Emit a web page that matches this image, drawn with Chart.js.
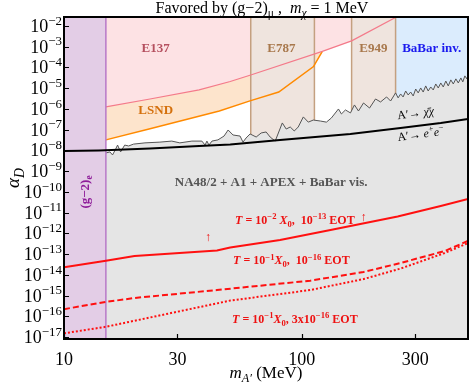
<!DOCTYPE html>
<html>
<head>
<meta charset="utf-8">
<script src="https://cdn.jsdelivr.net/npm/chart.js@4.4.1/dist/chart.umd.min.js"></script>
<style>
  html, body { margin: 0; padding: 0; background: #fff; }
</style>
</head>
<body>
<canvas id="chart" width="469" height="383"></canvas>
<script>
// axis ranges: m_A' in MeV, alpha_D
const xMin = 10, xMax = 500;
const yMin = 8e-18, yMax = 2.7e-2;
const xTicks = [10, 30, 100, 300];
const yTicks = [1e-17, 1e-16, 1e-15, 1e-14, 1e-13, 1e-12, 1e-11, 1e-10, 1e-9, 1e-8, 1e-7, 1e-6, 1e-5, 1e-4, 1e-3, 1e-2];
const yTickExps = ['−17', '−16', '−15', '−14', '−13', '−12', '−11', '−10', '−9', '−8', '−7', '−6', '−5', '−4', '−3', '−2'];

// vertical bands (MeV)
const g2eBand = [10, 15];
const e787Band = [61, 113];
const e949Band = [162, 248];
const babarInvBand = [248, 500];

// E137 lower edge
const e137X = [15, 23, 37, 50, 61, 122, 162, 250];
const e137Y = [1.24e-6, 3.0e-6, 8.2e-6, 2.1e-5, 4.3e-5, 5.9e-4, 1.9e-3, 2.7e-2];

// LSND lower edge
const lsndX = [15, 23, 45, 61, 80, 112, 122];
const lsndY = [3.2e-8, 1.1e-7, 7.9e-7, 2.5e-6, 6.5e-6, 1.1e-4, 5.9e-4];

// NA48/2 + A1 + APEX + BaBar vis. upper edge
const visX = [15, 15.6, 16.0, 16.5, 16.8, 17.3, 18.0, 18.7, 19.6, 21.9, 25.3, 28.4, 30.7, 34.5, 38.0, 39.2, 39.9, 40.7, 41.9, 44.4,
              47.1, 49.0, 51.4, 55.0, 56.6, 58.3, 60.6, 64.3, 67.5, 70.8, 73.6, 77.3, 82.8, 86.0, 89.4, 93.0, 96.6, 101.5, 106.5, 111.8,
              119.7, 126.9, 133.2, 142.6, 146.8, 152.6, 160.2, 166.5, 173.1, 181.8, 192.7, 204.2, 214.4, 227.3, 236.3,
              248, 254.2, 260.4, 266.8, 273.4, 280.1, 287, 294.1, 301.3, 308.7, 316.2, 324, 332, 340.1, 348.5, 357.1,
              365.9, 374.8, 384.1, 393.5, 403.3, 413, 423.4, 433.6, 444.5, 455.1, 466.7, 475.5, 485, 494.5, 500];
const visY = [7.5e-9, 8.4e-9, 6.0e-9, 1.17e-8, 1.8e-8, 8.4e-9, 1.8e-8, 1.63e-8, 2.0e-8, 2.3e-8, 2.5e-8, 2.8e-8, 2.3e-8, 2.8e-8, 2.8e-8, 1.8e-8, 2.8e-8, 1.8e-8, 2.8e-8, 3.2e-8,
              4.9e-8, 9.6e-8, 5.5e-8, 4.9e-8, 2.5e-8, 3.95e-8, 6.2e-8, 4.4e-8, 6.9e-8, 7.7e-8, 4.4e-8, 2.8e-8, 2.1e-7, 1.07e-7, 1.34e-7, 8.6e-8, 1.34e-7, 4.1e-7, 2.3e-7, 2.9e-7,
              2.6e-7, 2.3e-7, 3.65e-7, 9.9e-7, 5.7e-7, 8.9e-7, 6.4e-7, 1.55e-6, 7.9e-7, 1.93e-6, 1.1e-6, 3.0e-6, 2.16e-6, 3.76e-6, 2.4e-6,
              5.9e-6, 3.4e-6, 5.25e-6, 3.76e-6, 7.3e-6, 4.7e-6, 6.5e-6, 4.2e-6, 9.1e-6, 5.9e-6, 1.02e-5, 6.5e-6, 1.28e-5, 7.3e-6, 1.14e-5, 8.2e-6,
              1.59e-5, 1.02e-5, 1.78e-5, 1.14e-5, 2.2e-5, 1.28e-5, 2.5e-5, 1.59e-5, 2.8e-5, 1.78e-5, 3.1e-5, 2.0e-5, 3.9e-5, 2.8e-5, 4.3e-5];

// A' -> chi chi / A' -> e+e- boundary
const boundX = [10, 14, 23, 37, 50, 81, 160, 260, 384, 500];
const boundY = [9.3e-9, 9.9e-9, 1.23e-8, 1.63e-8, 1.92e-8, 3.2e-8, 6.2e-8, 1.2e-7, 2.1e-7, 3.3e-7];

// projected reach
const t2X = [10, 15, 19.8, 44, 50, 81, 132, 253, 384, 500];
const t2Y = [2.3e-14, 4.8e-14, 8.0e-14, 1.48e-13, 2.07e-13, 4.75e-13, 1.44e-12, 6.5e-12, 2.07e-11, 4.5e-11];
const t1aX = [10, 15, 19.8, 44, 108.6, 181.8, 260.4, 399, 500];
const t1aY = [2.2e-16, 4.9e-16, 7.6e-16, 1.84e-15, 5.2e-15, 1.36e-14, 3.7e-14, 1.4e-13, 4.3e-13];
const t1bX = [10, 15, 50, 108.6, 181.8, 260.4, 399, 500];
const t1bY = [1.5e-17, 3.1e-17, 5.7e-16, 1.84e-15, 6.2e-15, 2.0e-14, 1.12e-13, 3.4e-13];

const SERIF = "'Liberation Serif', 'DejaVu Serif', serif";

const pts = (xs, ys) => xs.map((x, i) => ({ x: x, y: ys[i] }));
const band = b => [{ x: b[0], y: yMax }, { x: b[1], y: yMax }];
const edge = x => [{ x: x, y: yMin }, { x: x, y: yMax }];

function line(data, color, width, extra) {
    return Object.assign({
        data: data, borderColor: color, borderWidth: width,
        pointRadius: 0, tension: 0, fill: false
    }, extra || {});
}
function area(data, color, fill) {
    return { data: data, borderWidth: 0, borderColor: 'rgba(0,0,0,0)', backgroundColor: color,
             pointRadius: 0, tension: 0, fill: fill };
}

// draw text with italic / sub / sup pieces
function rich(ctx, parts, x, y, opt) {
    const size = opt.size;
    const fontFor = f => {
        const s = (f.includes('^') || f.includes('_')) ? size * 0.72 : size;
        return (f.includes('i') ? 'italic ' : '') + (opt.bold ? 'bold ' : '') + s + 'px ' + SERIF;
    };
    let w = 0;
    parts.forEach(p => { ctx.font = fontFor(p[1] || ''); w += ctx.measureText(p[0]).width; });
    let cx = opt.align === 'center' ? x - w / 2 : (opt.align === 'right' ? x - w : x);
    ctx.fillStyle = opt.color;
    ctx.textBaseline = 'alphabetic';
    ctx.textAlign = 'left';
    parts.forEach(p => {
        const f = p[1] || '';
        ctx.font = fontFor(f);
        const dy = f.includes('^') ? -size * 0.4 : (f.includes('_') ? size * 0.25 : 0);
        ctx.fillText(p[0], cx, y + dy);
        cx += ctx.measureText(p[0]).width;
    });
}

const decor = {
    id: 'decor',
    afterDraw(chart) {
        const ctx = chart.ctx, a = chart.chartArea;
        const xs = chart.scales.x, ys = chart.scales.y;
        const X = v => xs.getPixelForValue(v), Y = v => ys.getPixelForValue(v);
        ctx.save();

        // region labels
        const lab = (t, x, y, color) => rich(ctx, [[t]], X(x), Y(y) + 4.5, { size: 13, bold: true, color: color, align: 'center' });
        lab('E137', 24.3, 8.7e-4, '#b5505f');
        lab('LSND', 24.3, 8.9e-7, '#d4700c');
        lab('E787', 82, 8.7e-4, '#a8784c');
        lab('E949', 200, 8.7e-4, '#a8784c');
        lab('BaBar inv.', 352, 8.7e-4, '#1a1aee');
        lab('NA48/2 + A1 + APEX + BaBar vis.', 74.3, 3.0e-10, '#555555');

        ctx.save();
        ctx.translate(X(12.2), Y(9.8e-11));
        ctx.rotate(-Math.PI / 2);
        rich(ctx, [['(g−2)'], ['e', '_']], 0, 4.5, { size: 13, bold: true, color: '#8e1c99', align: 'center' });
        ctx.restore();

        // projection labels
        const red = '#ee1111';
        rich(ctx, [['T', 'i'], [' = 10'], ['−2', '^'], [' '], ['X', 'i'], ['0', '_'], [',  10'], ['−13', '^'], [' EOT']],
             X(52.4), Y(4.4e-12) + 4, { size: 12, bold: true, color: red });
        rich(ctx, [['T', 'i'], [' = 10'], ['−1', '^'], ['X', 'i'], ['0', '_'], [',  10'], ['−16', '^'], [' EOT']],
             X(51.4), Y(4.9e-14) + 4, { size: 12, bold: true, color: red });
        rich(ctx, [['T', 'i'], [' = 10'], ['−1', '^'], ['X', 'i'], ['0', '_'], [', 3x10'], ['−16', '^'], [' EOT']],
             X(50.9), Y(7.3e-17) + 4, { size: 12, bold: true, color: red });
        rich(ctx, [['↑']], X(181.8), Y(6.1e-12) + 4, { size: 12, bold: true, color: red, align: 'center' });
        rich(ctx, [['↑']], X(40.3), Y(6.6e-13) + 4, { size: 12, bold: true, color: red, align: 'center' });

        // decay channel labels along the boundary
        ctx.save();
        ctx.translate(X(301), Y(6.4e-7));
        ctx.rotate(-0.13);
        rich(ctx, [["A′→ "], ['χ̄χ', 'i']], 0, 4, { size: 12, color: '#000', align: 'center' });
        ctx.restore();
        ctx.save();
        ctx.translate(X(316), Y(6.2e-8));
        ctx.rotate(-0.13);
        rich(ctx, [["A′→ "], ['e', 'i'], ['+', '^'], ['e', 'i'], ['−', '^']], 0, 4, { size: 12, color: '#000', align: 'center' });
        ctx.restore();

        // frame and inward ticks
        ctx.strokeStyle = '#000';
        ctx.lineWidth = 2;
        ctx.strokeRect(a.left, a.top, a.right - a.left, a.bottom - a.top);
        ctx.lineWidth = 1.2;
        ctx.beginPath();
        xTicks.forEach(v => { const p = Math.round(X(v)) + 0.5; ctx.moveTo(p, a.bottom); ctx.lineTo(p, a.bottom - 5); });
        yTicks.forEach(v => { const p = Math.round(Y(v)) + 0.5; ctx.moveTo(a.left, p); ctx.lineTo(a.left + 5, p); });
        ctx.stroke();

        // y tick labels: 10 with a raised exponent, placed by the y scale
        ys.ticks.forEach((t, i) => {
            rich(ctx, [['10'], [yTickExps[i], '^']], a.left - 2, Y(t.value) + 6, { size: 18, color: '#000', align: 'right' });
        });

        // title and axis titles
        rich(ctx, [['Favored by (g−2)'], ['μ', '_'], [' ,  '], ['m', 'i'], ['χ', 'i_'], [' = 1 MeV']],
             (a.left + a.right) / 2 - 4, 13, { size: 16, color: '#000', align: 'center' });
        rich(ctx, [['m', 'i'], ['A′', 'i_'], [' (MeV)']], (a.left + a.right) / 2, 378, { size: 17, color: '#000', align: 'center' });
        ctx.save();
        ctx.translate(19, (a.top + a.bottom) / 2);
        ctx.rotate(-Math.PI / 2);
        rich(ctx, [['α', 'i'], ['D', 'i_']], 0, 0, { size: 19, color: '#000', align: 'center' });
        ctx.restore();

        ctx.restore();
    }
};

document.addEventListener("DOMContentLoaded", function() {
    const ctx = document.getElementById('chart').getContext('2d');
    new Chart(ctx, {
        type: 'line',
        data: {
            datasets: [
                // listed top layer first
                line(pts(t2X, t2Y), '#ff1010', 2),
                line(pts(t1aX, t1aY), '#ff1010', 2, { borderDash: [6, 3] }),
                line(pts(t1bX, t1bY), '#ff1010', 2, { borderDash: [2, 2] }),
                line(pts(boundX, boundY), '#000000', 2),
                line(edge(g2eBand[1]), '#b878c8', 1.5),
                area(band(g2eBand), '#e3cde6', 'start'),
                line(pts(visX, visY), '#555555', 1, { fill: 'start', backgroundColor: '#e5e5e5' }),
                line(pts(e137X, e137Y), '#f47a8a', 1.2),
                line(pts(lsndX, lsndY), '#ff8a00', 1.5),
                line(edge(e787Band[0]), '#c4a080', 1.5),
                line(edge(e787Band[1]), '#c4a080', 1.5),
                line(edge(e949Band[0]), '#c4a080', 1.5),
                line(edge(e949Band[1]), '#c4a080', 1.5),
                area(band(babarInvBand), '#dbecfd', 'start'),
                area(band(e787Band), '#efe4de', 'start'),
                area(band(e949Band), '#efe4de', 'start'),
                area(pts(e137X, e137Y), '#fde2e4', 'end'),
                area(pts(lsndX, lsndY), '#fde4cc', 'end')
            ]
        },
        options: {
            responsive: false,
            animation: false,
            devicePixelRatio: 1,
            layout: { padding: { top: 17, right: 1, bottom: 0, left: 0 } },
            plugins: { legend: { display: false }, tooltip: { enabled: false }, title: { display: false } },
            scales: {
                x: {
                    type: 'logarithmic', min: xMin, max: xMax,
                    afterBuildTicks: s => { s.ticks = xTicks.map(v => ({ value: v })); },
                    afterFit: s => { s.height = 44; },
                    grid: { display: false }, border: { display: false },
                    ticks: { autoSkip: false, maxRotation: 0, padding: 2, color: '#000',
                             font: { family: SERIF, size: 18 }, callback: v => String(v) }
                },
                y: {
                    type: 'logarithmic', min: yMin, max: yMax,
                    afterBuildTicks: s => { s.ticks = yTicks.map(v => ({ value: v })); },
                    afterFit: s => { s.width = 64; },
                    grid: { display: false }, border: { display: false },
                    ticks: { display: false }
                }
            }
        },
        plugins: [decor]
    });
});
</script>
</body>
</html>
